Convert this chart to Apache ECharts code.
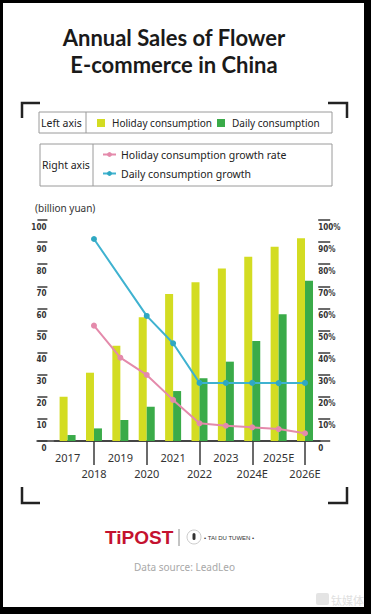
<!DOCTYPE html>
<html>
<head>
<meta charset="utf-8">
<script src="https://cdn.jsdelivr.net/npm/echarts@6/dist/echarts.min.js"></script>
<style>
html,body{margin:0;padding:0;background:#000;width:371px;height:614px;overflow:hidden;}
#frame{position:absolute;left:3px;top:3px;width:361px;height:604px;background:#fff;}
#chart{position:absolute;left:0;top:0;width:371px;height:614px;}
</style>
</head>
<body>
<div id="frame"></div>
<div id="chart"></div>
<script>
const years = ['2017','2018','2019','2020','2021','2022','2023','2024E','2025E','2026E'];
const holidaySales = [20.0, 30.9, 43.1, 56.0, 66.5, 71.8, 78.1, 83.4, 87.9, 91.7];
const dailySales = [2.7, 5.7, 9.5, 15.5, 22.6, 28.4, 35.9, 45.2, 57.3, 72.5];
const holidayGrowth = [null, 52.2, 37.7, 29.9, 18.6, 8.0, 6.9, 6.2, 5.4, 3.5];
const dailyGrowth = [null, 91.4, null, 56.6, 44.2, 26.3, 26.3, 26.3, 26.2, 26.3];
const leftTicks = ['0','10','20','30','40','50','60','70','80','90','100'];
const rightTicks = ['0','10%','20%','30%','40%','50%','60%','70%','80%','90%','100%'];

const C_HOL = '#d3dc22', C_DAY = '#3aab49', C_PINK = '#e48aab', C_BLUE = '#3fb2d0';
const FONT = '"Noto Sans", "Open Sans", sans-serif';
const AX = '#3a3a3a';

const chart = echarts.init(document.getElementById('chart'), null, {renderer: 'svg'});
const axisLabelFont = {fontFamily: '"Liberation Sans Narrow", "DejaVu Sans Condensed", sans-serif', fontSize: 8, fontWeight: 'bold', color: '#333'};

const option = {
  animation: false,
  backgroundColor: 'transparent',
  title: {
    text: 'Annual Sales of Flower\nE-commerce in China',
    left: 169, top: 19, textAlign: 'center',
    textStyle: {fontFamily: 'Lato, "Open Sans", sans-serif', fontWeight: 'bold', fontSize: 22, lineHeight: 27, color: '#1a1a1a'}
  },
  legend: [
    {
      data: ['Holiday consumption', 'Daily consumption'],
      left: 92, top: 113, itemWidth: 8, itemHeight: 8, itemGap: 5, icon: 'rect',
      textStyle: {fontFamily: FONT, fontSize: 10, color: '#222', padding: [0,0,0,2]}
    },
    {
      data: ['Holiday consumption growth rate', 'Daily consumption growth'],
      orient: 'vertical', left: 97, top: 144, itemWidth: 13, itemHeight: 6, itemGap: 8,
      textStyle: {fontFamily: FONT, fontSize: 10.5, color: '#222'}
    }
  ],
  grid: [
    {left: 54.4, right: 52.8, top: 220, bottom: 173},
    {left: 37, right: 51, top: 220, bottom: 173}
  ],
  xAxis: [
    {
      type: 'category', data: years, gridIndex: 0, boundaryGap: true,
      axisLine: {lineStyle: {color: AX, width: 1.5}},
      axisTick: {show: true, alignWithLabel: true, length: 24, interval: (i) => i % 2 === 1, lineStyle: {color: AX, width: 1.5}},
      axisLabel: {
        interval: 0, margin: 8, lineHeight: 16,
        fontFamily: FONT, fontSize: 11, color: '#333',
        formatter: (v, i) => (i % 2 === 1 ? '\n' + v : v)
      },
      splitLine: {show: false}
    },
    {
      type: 'value', gridIndex: 1, min: 0, max: 1,
      axisLine: {onZero: false, lineStyle: {color: AX, width: 1.5}},
      axisTick: {show: false}, axisLabel: {show: false}, splitLine: {show: false}
    }
  ],
  yAxis: [
    {
      type: 'value', gridIndex: 0, min: 0, max: 100, interval: 10, position: 'left', offset: 7,
      axisLine: {show: false},
      axisTick: {show: true, length: 10, lineStyle: {color: AX, width: 1.5}},
      axisLabel: Object.assign({margin: 1, verticalAlign: 'top', padding: [3,0,0,0], align: 'right',
        formatter: (v) => leftTicks[Math.round(v / 10)]}, axisLabelFont),
      splitLine: {show: false}
    },
    {
      type: 'value', gridIndex: 0, min: 0, max: 100, interval: 10, position: 'right', offset: 0,
      axisLine: {show: false},
      axisTick: {show: true, length: 12, lineStyle: {color: AX, width: 1.5}},
      axisLabel: Object.assign({margin: 0, verticalAlign: 'top', padding: [3,0,0,0], align: 'left',
        formatter: (v) => rightTicks[Math.round(v / 10)]}, axisLabelFont),
      splitLine: {show: false}
    },
    {
      type: 'value', gridIndex: 1, min: 0, max: 1, show: false
    }
  ],
  series: [
    {name: 'Holiday consumption', type: 'bar', data: holidaySales, barWidth: 8, barGap: '0%', itemStyle: {color: C_HOL}, xAxisIndex: 0, yAxisIndex: 0},
    {name: 'Daily consumption', type: 'bar', data: dailySales, barWidth: 8, barGap: '0%', itemStyle: {color: C_DAY}, xAxisIndex: 0, yAxisIndex: 0},
    {name: 'Holiday consumption growth rate', type: 'line', data: holidayGrowth, yAxisIndex: 1, connectNulls: true,
      symbol: 'circle', symbolSize: 6, lineStyle: {color: C_PINK, width: 2}, itemStyle: {color: C_PINK}, z: 5},
    {name: 'Daily consumption growth', type: 'line', data: dailyGrowth, yAxisIndex: 1, connectNulls: true,
      symbol: 'circle', symbolSize: 6, lineStyle: {color: C_BLUE, width: 2}, itemStyle: {color: '#2fa8c2'}, z: 5}
  ],
  graphic: [
    // corner brackets
    {type: 'polyline', shape: {points: [[22,118],[22,103],[40,103]]}, style: {stroke: '#222', lineWidth: 2.5, fill: null}},
    {type: 'polyline', shape: {points: [[328,103],[347,103],[347,118]]}, style: {stroke: '#222', lineWidth: 2.5, fill: null}},
    {type: 'polyline', shape: {points: [[22,487],[22,503],[40,503]]}, style: {stroke: '#222', lineWidth: 2.5, fill: null}},
    {type: 'polyline', shape: {points: [[328,503],[347,503],[347,487]]}, style: {stroke: '#222', lineWidth: 2.5, fill: null}},
    // legend boxes
    {type: 'rect', shape: {x: 39, y: 112, width: 293, height: 21}, style: {stroke: '#9a9a9a', lineWidth: 1, fill: null}},
    {type: 'line', shape: {x1: 86, y1: 112, x2: 86, y2: 133}, style: {stroke: '#9a9a9a', lineWidth: 1}},
    {type: 'text', x: 41, y: 122.5, style: {text: 'Left axis', font: '10.5px ' + FONT, fill: '#222', textVerticalAlign: 'middle'}},
    {type: 'rect', shape: {x: 40, y: 144, width: 292, height: 42}, style: {stroke: '#9a9a9a', lineWidth: 1, fill: null}},
    {type: 'line', shape: {x1: 93, y1: 144, x2: 93, y2: 186}, style: {stroke: '#9a9a9a', lineWidth: 1}},
    {type: 'text', x: 42, y: 165, style: {text: 'Right axis', font: '10.5px ' + FONT, fill: '#222', textVerticalAlign: 'middle'}},
    // unit
    {type: 'text', x: 35, y: 208, style: {text: '(billion yuan)', font: '10px ' + FONT, fill: '#333', textVerticalAlign: 'middle'}},
    // footer
    {type: 'text', x: 105, y: 537, style: {text: 'TiPOST', font: 'bold 19px "Liberation Sans", Arial, sans-serif', fill: '#c4122f', textVerticalAlign: 'middle'}},
    {type: 'line', shape: {x1: 179, y1: 529, x2: 179, y2: 546}, style: {stroke: '#888', lineWidth: 1}},
    {type: 'circle', shape: {cx: 194, cy: 537, r: 7}, style: {stroke: '#ccc', lineWidth: 1, fill: '#fff'}},
    {type: 'rect', shape: {x: 192.5, y: 533, width: 3, height: 7, r: 1.5}, style: {fill: '#333'}},
    {type: 'text', x: 204, y: 538, style: {text: '• TAI DU TUWEN •', font: '6px "Liberation Sans", sans-serif', fill: '#333', textVerticalAlign: 'middle'}},
    {type: 'text', x: 184.5, y: 567, style: {text: 'Data source: LeadLeo', font: '10px ' + FONT, fill: '#a8a8a8', textAlign: 'center', textVerticalAlign: 'middle'}},
    // watermark
    {type: 'rect', shape: {x: 316, y: 593, width: 13, height: 12, r: 2}, style: {fill: '#e4e4e4'}},
    {type: 'text', x: 331, y: 599.5, style: {text: '钛媒体', font: '11px "Noto Sans CJK SC", sans-serif', fill: '#e0e0e0', textVerticalAlign: 'middle'}}
  ]
};
chart.setOption(option);
</script>
</body>
</html>
